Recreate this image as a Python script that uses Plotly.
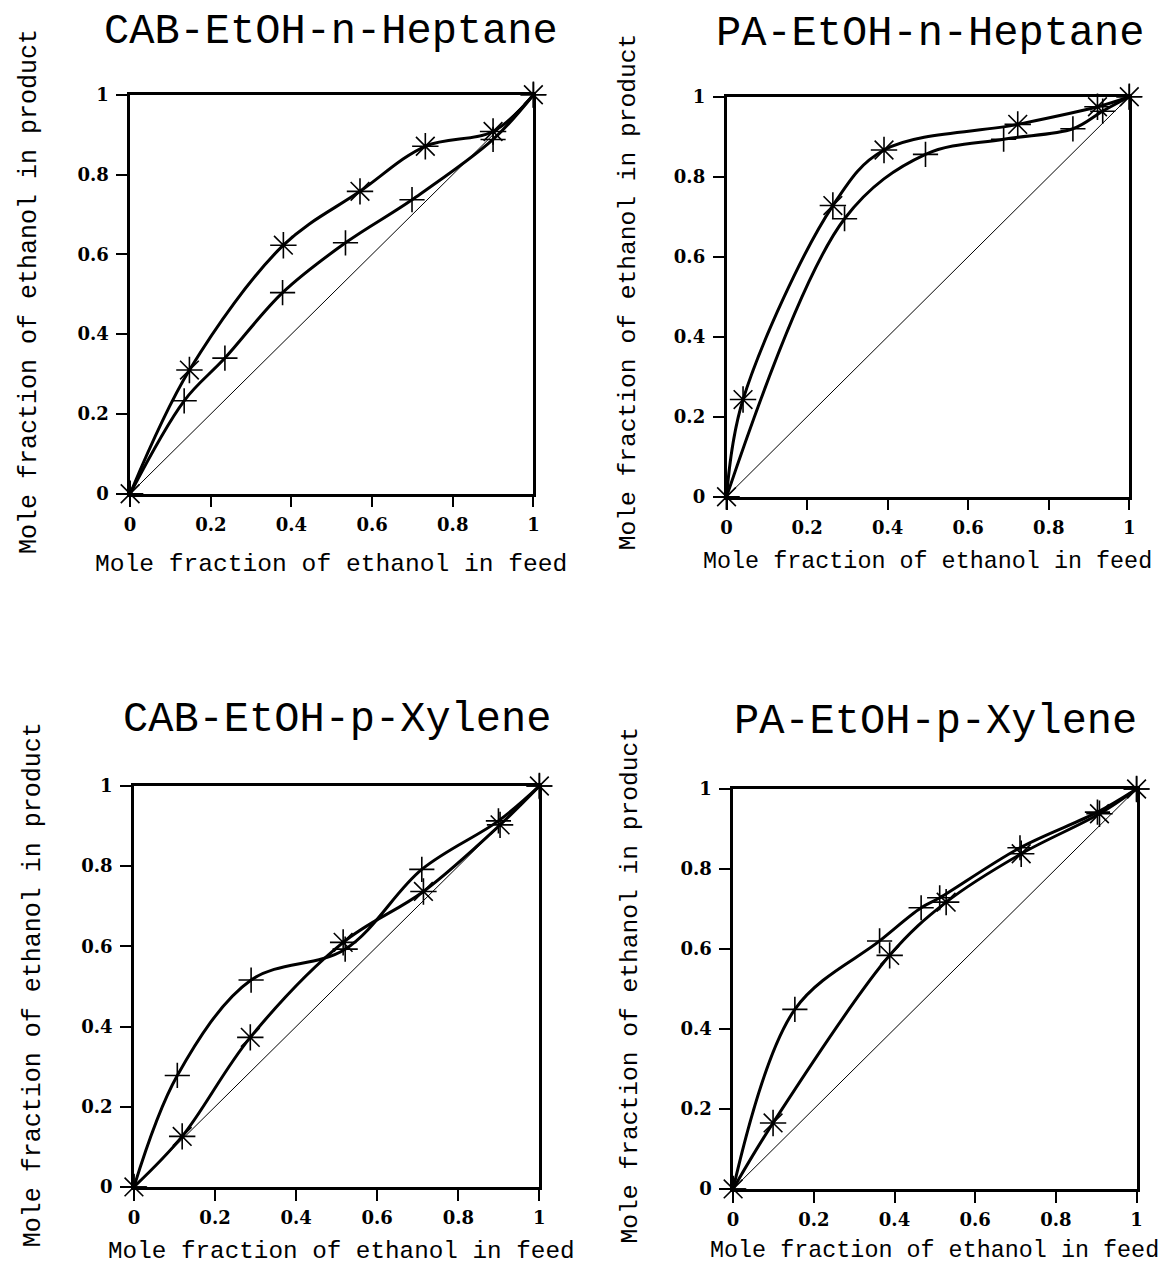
import plotly.graph_objects as go

W, H = 1162, 1268

TITLES = ["CAB-EtOH-n-Heptane", "PA-EtOH-n-Heptane", "CAB-EtOH-p-Xylene", "PA-EtOH-p-Xylene"]
XLABEL = "Mole fraction of ethanol in feed"
YLABEL = "Mole fraction of ethanol in product"
TICKS = [0, 0.2, 0.4, 0.6, 0.8, 1]
TICK_TEXT = ["0", "0.2", "0.4", "0.6", "0.8", "1"]
DIAG = [0, 1]

# CAB-EtOH-n-Heptane
tl_star_x = [0, 0.147, 0.38, 0.57, 0.732, 0.90, 1]
tl_star_y = [0, 0.31, 0.623, 0.758, 0.871, 0.908, 1]
tl_plus_x = [0, 0.134, 0.235, 0.378, 0.534, 0.699, 0.90, 1]
tl_plus_y = [0, 0.233, 0.34, 0.504, 0.629, 0.737, 0.888, 1]

# PA-EtOH-n-Heptane
tr_star_x = [0, 0.041, 0.264, 0.391, 0.723, 0.921, 1]
tr_star_y = [0, 0.243, 0.728, 0.867, 0.931, 0.975, 1]
tr_plus_x = [0, 0.293, 0.494, 0.688, 0.86, 0.934, 1]
tr_plus_y = [0, 0.695, 0.856, 0.894, 0.92, 0.964, 1]

# CAB-EtOH-p-Xylene
bl_plus_x = [0, 0.107, 0.289, 0.521, 0.71, 0.899, 1]
bl_plus_y = [0, 0.278, 0.516, 0.593, 0.792, 0.913, 1]
bl_star_x = [0, 0.119, 0.287, 0.516, 0.714, 0.903, 1]
bl_star_y = [0, 0.126, 0.373, 0.61, 0.737, 0.903, 1]

# PA-EtOH-p-Xylene
br_plus_x = [0, 0.153, 0.363, 0.466, 0.512, 0.711, 0.903, 1]
br_plus_y = [0, 0.449, 0.62, 0.703, 0.728, 0.853, 0.942, 1]
br_star_x = [0, 0.099, 0.388, 0.528, 0.714, 0.908, 1]
br_star_y = [0, 0.165, 0.584, 0.717, 0.838, 0.938, 1]

panels = [
    dict(star=(tl_star_x, tl_star_y), plus=(tl_plus_x, tl_plus_y)),
    dict(star=(tr_star_x, tr_star_y), plus=(tr_plus_x, tr_plus_y)),
    dict(star=(bl_star_x, bl_star_y), plus=(bl_plus_x, bl_plus_y)),
    dict(star=(br_star_x, br_star_y), plus=(br_plus_x, br_plus_y)),
]

# target positions in the final picture (pixels)
boxes = [(129.5, 533.3, 93, 493), (726.7, 1130, 95, 496),
         (133.3, 539.3, 786, 1188), (733.3, 1137.3, 789, 1190)]
title_pos = [(331, 30), (930, 32), (337, 720), (936, 722)]
xlab_pos = [(331, 564, 24.6), (927.5, 561, 23.4), (341.5, 1253, 24.3), (935, 1252, 23.4)]
ylab_pos = [(29, 290, 25), (628, 290, 24.6), (33, 985, 25), (631, 985, 24.6)]

# measured mapping from figure pixels to picture pixels: pic = off + scale * fig
SX, OX = 0.991, 5.2
SY, OY = 0.986, 9.0

MONO = "Liberation Mono, Courier New, monospace"
TICKFONT = "DejaVu Serif, serif"


def px(xp):
    return ((xp - OX) / SX) / W


def py(yp):
    return 1 - ((yp - OY) / SY) / H


fig = go.Figure()
layout = dict(
    width=W, height=H, margin=dict(l=0, r=0, t=0, b=0),
    paper_bgcolor="white", plot_bgcolor="white", showlegend=False,
    annotations=[],
)

for i, (p, b) in enumerate(zip(panels, boxes)):
    n = "" if i == 0 else str(i + 1)
    xa, ya = "x" + n, "y" + n
    fig.add_trace(go.Scatter(x=DIAG, y=DIAG, mode="lines", line=dict(color="black", width=1),
                             xaxis=xa, yaxis=ya, hoverinfo="skip", cliponaxis=False))
    for key, sym, size in (("plus", "cross-thin-open", 18), ("star", "asterisk-open", 22)):
        xs, ys = p[key]
        fig.add_trace(go.Scatter(
            x=xs, y=ys, mode="lines+markers",
            line=dict(color="black", width=3, shape="spline", smoothing=1.0),
            marker=dict(symbol=sym, size=size, color="black", line=dict(color="black", width=1.6)),
            xaxis=xa, yaxis=ya, cliponaxis=False))
    l, r, t, bt = b
    axcommon = dict(range=[0, 1], tickvals=TICKS, ticktext=TICK_TEXT, ticks="outside",
                    ticklen=11, tickwidth=2, tickcolor="black", showline=True, linewidth=2.5,
                    linecolor="black", mirror=True, showgrid=False, zeroline=False,
                    tickfont=dict(family=TICKFONT, size=18, color="black", weight="bold"),
                    fixedrange=True)
    layout["xaxis" + n] = dict(axcommon, domain=[px(l), px(r)], anchor=ya, ticklabelstandoff=2)
    layout["yaxis" + n] = dict(axcommon, domain=[py(bt), py(t)], anchor=xa, ticklabelstandoff=4)
    tx, ty = title_pos[i]
    layout["annotations"].append(dict(
        text=TITLES[i], x=px(tx), y=py(ty), xref="paper", yref="paper",
        showarrow=False, xanchor="center", yanchor="middle",
        font=dict(family=MONO, size=42, color="black")))
    lx, ly, ls = xlab_pos[i]
    layout["annotations"].append(dict(
        text=XLABEL, x=px(lx), y=py(ly), xref="paper", yref="paper",
        showarrow=False, xanchor="center", yanchor="middle",
        font=dict(family=MONO, size=ls, color="black")))
    yx, yy, ys_ = ylab_pos[i]
    layout["annotations"].append(dict(
        text=YLABEL, x=px(yx), y=py(yy), xref="paper", yref="paper",
        showarrow=False, xanchor="center", yanchor="middle", textangle=-90,
        font=dict(family=MONO, size=ys_, color="black")))

fig.update_layout(**layout)
fig.write_html("out.html", config={"displayModeBar": False},
               post_script="document.body.style.margin='0';")
